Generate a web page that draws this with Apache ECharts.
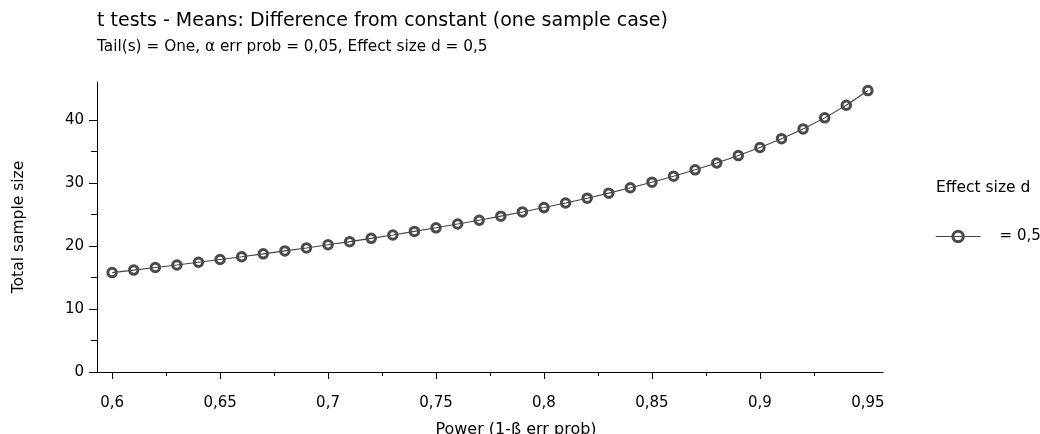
<!DOCTYPE html>
<html>
<head>
<meta charset="utf-8">
<script src="https://cdn.jsdelivr.net/npm/echarts@6/dist/echarts.min.js"></script>
<style>
html,body{margin:0;padding:0;background:#fff;}
#chart{width:1040px;height:434px;}
</style>
</head>
<body>
<div id="chart"></div>
<script>
// ---- data ----
const powerValues = [0.60,0.61,0.62,0.63,0.64,0.65,0.66,0.67,0.68,0.69,0.70,0.71,0.72,0.73,0.74,0.75,0.76,0.77,0.78,0.79,0.80,0.81,0.82,0.83,0.84,0.85,0.86,0.87,0.88,0.89,0.90,0.91,0.92,0.93,0.94,0.95];
const sampleSizes = [15.77,16.16,16.57,16.98,17.41,17.84,18.28,18.74,19.21,19.68,20.18,20.68,21.20,21.74,22.30,22.87,23.47,24.08,24.72,25.39,26.08,26.81,27.57,28.37,29.22,30.11,31.06,32.07,33.16,34.33,35.61,37.01,38.56,40.31,42.31,44.64];
const xLabelValues = [0.6,0.65,0.7,0.75,0.8,0.85,0.9,0.95];
const xMajorTicks = [0.6,0.65,0.7,0.75,0.8,0.85,0.9];
const xMinorTicks = [0.625,0.675,0.725,0.775,0.825,0.875,0.925];
const yLabelValues = [0,10,20,30,40];
const yMinorTicks = [5,15,25,35];
const seriesName = '= 0,5';
const titleText = 't tests - Means: Difference from constant (one sample case)';
const subtitleText = 'Tail(s) = One, α err prob = 0,05, Effect size d = 0,5';
const xName = 'Power (1-ß err prob)';
const yName = 'Total sample size';
const legendTitle = 'Effect size d';

const FONT = 'DejaVu Sans';
const fmt = v => String(+v.toFixed(3)).replace('.', ',');

const chart = echarts.init(document.getElementById('chart'), null, {renderer:'canvas'});
const axisLine = {show:true, lineStyle:{color:'#000', width:1}};
chart.setOption({
  animation:false,
  backgroundColor:'#fff',
  title:[
    {text:titleText, left:97, top:12, padding:0, textStyle:{fontFamily:FONT, fontSize:19, fontWeight:'normal', color:'#000'}},
    {text:subtitleText, left:97, top:40, padding:0, textStyle:{fontFamily:FONT, fontSize:15.3, fontWeight:'normal', color:'#000'}}
  ],
  graphic:[
    {type:'text', left:936, top:180, style:{text:legendTitle, font:'15.5px "DejaVu Sans"', fill:'#000'}}
  ],
  legend:{
    data:[seriesName], orient:'vertical', left:935, top:229, padding:0,
    itemWidth:45, itemHeight:13,
    itemStyle:{borderWidth:3, borderColor:'#4a4a4a'},
    lineStyle:{color:'#444', width:1.2},
    textStyle:{fontFamily:FONT, fontSize:15, color:'#000', padding:[0,0,0,14]}
  },
  grid:{left:97, right:157, top:82, bottom:62, containLabel:false, outerBoundsMode:'none'},
  xAxis:[
    {type:'value', min:0.593, max:0.957, axisLine:axisLine, splitLine:{show:false},
     name:xName, nameLocation:'middle', nameGap:50,
     nameTextStyle:{fontFamily:FONT, fontSize:16, color:'#000', padding:[0,0,0,52]},
     axisTick:{show:true, customValues:xMajorTicks, length:7, lineStyle:{color:'#000'}},
     axisLabel:{customValues:xLabelValues, formatter:fmt, fontFamily:FONT, fontSize:15, color:'#000', margin:24}},
    {type:'value', min:0.593, max:0.957, position:'bottom', axisLine:{show:false}, splitLine:{show:false},
     axisTick:{show:true, customValues:xMinorTicks, length:4, lineStyle:{color:'#000'}},
     axisLabel:{show:false}}
  ],
  yAxis:[
    {type:'value', min:0, max:46, axisLine:axisLine, splitLine:{show:false},
     name:yName, nameLocation:'middle', nameGap:70,
     nameTextStyle:{fontFamily:FONT, fontSize:15.5, color:'#000'},
     axisTick:{show:true, customValues:yLabelValues, length:8, lineStyle:{color:'#000'}},
     axisLabel:{customValues:yLabelValues, fontFamily:FONT, fontSize:15, color:'#000', margin:13}},
    {type:'value', min:0, max:46, position:'left', axisLine:{show:false}, splitLine:{show:false},
     axisTick:{show:true, customValues:yMinorTicks, length:6, lineStyle:{color:'#000'}},
     axisLabel:{show:false}}
  ],
  series:[{
    name:seriesName, type:'line', xAxisIndex:0, yAxisIndex:0,
    data:powerValues.map((p,i)=>[p, sampleSizes[i]]),
    symbol:'circle', symbolSize:8.5,
    itemStyle:{color:'rgba(0,0,0,0)', borderColor:'#4a4a4a', borderWidth:3},
    lineStyle:{color:'#444', width:1.1},
    emphasis:{disabled:true}
  }]
});
</script>
</body>
</html>
